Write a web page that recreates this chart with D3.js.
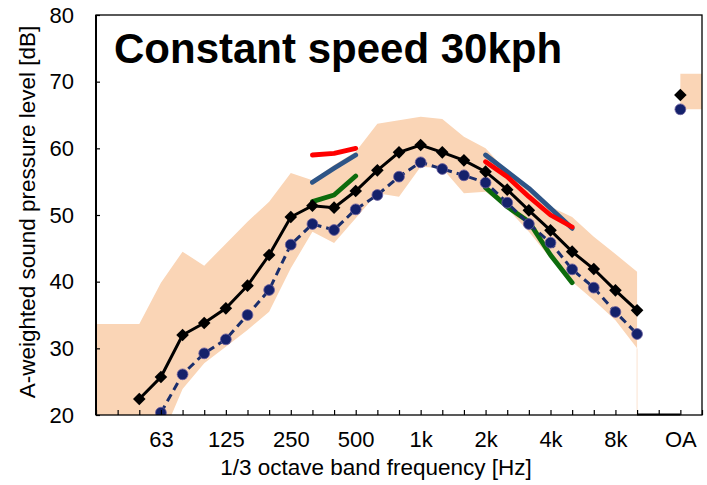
<!DOCTYPE html>
<html>
<head>
<meta charset="utf-8">
<script src="https://cdn.jsdelivr.net/npm/d3@7"></script>
<style>
  html, body { margin: 0; padding: 0; background: #fff; }
  svg { display: block; }
  text { font-family: "Liberation Sans", Arial, sans-serif; fill: #000; }
</style>
</head>
<body>
<svg id="chart" width="707" height="485"></svg>
<script>
// ---------- data ----------
const categories = ["31.5","40","50","63","80","100","125","160","200","250","315","400","500","630","800","1k","1.25k","1.6k","2k","2.5k","3.15k","4k","5k","6.3k","8k","10k","","OA",""];
const tickLabels = ["63","125","250","500","1k","2k","4k","8k","OA"];
const yTicks = [20,30,40,50,60,70,80];

// black solid line with diamonds (band spectrum)
const blackValues = [null,null,22.4,25.7,32.0,33.8,36.0,39.4,44.0,49.7,51.4,51.1,53.6,56.7,59.4,60.5,59.4,58.2,56.5,53.8,50.7,47.7,44.5,41.9,38.7,35.7,null,null,null];
const blackOA = 68.0;
// navy dashed line with circles
const navyValues = [null,null,null,20.35,26.1,29.25,31.35,35.0,38.75,45.55,48.65,47.75,50.85,53.0,55.75,57.9,56.9,55.95,54.85,51.85,48.65,45.85,41.85,39.1,35.45,32.15,null,null,null];
const navyOA = 65.85;
// peach range band
const bandUpper = [33.65,33.65,33.65,39.85,44.5,42.4,45.7,49.0,52.0,56.3,55.2,57.5,59.5,63.7,64.2,64.75,64.4,61.75,60.0,56.5,54.0,51.25,49.7,46.75,44.15,41.5,null,71.2,71.2];
const bandLower = [15.0,15.0,15.0,16.3,23.9,27.75,30.25,32.75,35.5,42.0,47.5,45.8,49.5,53.25,52.75,57.25,57.0,53.25,53.5,51.0,47.5,43.5,40.0,37.2,34.2,30.0,null,65.85,65.85];
// thick reference lines
const redValues   = [null,null,null,null,null,null,null,null,null,null,59.0,59.25,60.0,null,null,null,null,null,58.0,55.75,52.75,50.0,48.2,null,null,null,null,null,null];
const blueValues  = [null,null,null,null,null,null,null,null,null,null,54.9,57.0,59.0,null,null,null,null,null,59.0,56.5,54.0,51.0,48.0,null,null,null,null,null,null];
const greenValues = [null,null,null,null,null,null,null,null,null,null,52.0,53.0,55.85,null,null,null,null,null,54.1,51.25,49.0,44.0,39.85,null,null,null,null,null,null];

// ---------- layout ----------
const svg = d3.select("#chart");
const mLeft = 96, mRight = 702, mTop = 15, mBottom = 415;
const idx = d3.range(categories.length);
const x = d3.scalePoint().domain(idx).range([mLeft, mRight]).padding(0);
const y = d3.scaleLinear().domain([20, 80]).range([mBottom, mTop]);

svg.append("defs").append("clipPath").attr("id", "plotclip")
  .append("rect").attr("x", mLeft).attr("y", mTop).attr("width", mRight - mLeft).attr("height", mBottom - mTop);

const plot = svg.append("g").attr("clip-path", "url(#plotclip)");

// band
const area = d3.area()
  .defined(i => bandUpper[i] != null && bandLower[i] != null)
  .x(i => x(i)).y0(i => y(bandLower[i])).y1(i => y(bandUpper[i]));
plot.append("path").datum(idx).attr("d", area).attr("fill", "#FAD5B6");
// thin edge where the band ends at 10k
plot.append("line")
  .attr("x1", x(25)).attr("x2", x(25))
  .attr("y1", y(bandLower[25])).attr("y2", y(20))
  .attr("stroke", "#FBE3D2").attr("stroke-width", 1);

// reference lines
function refLine(vals, color) {
  const ln = d3.line().defined(i => vals[i] != null).x(i => x(i)).y(i => y(vals[i]));
  plot.append("path").datum(idx).attr("d", ln)
    .attr("fill", "none").attr("stroke", color).attr("stroke-width", 4.8)
    .attr("stroke-linecap", "round").attr("stroke-linejoin", "round");
}
refLine(blueValues, "#2E5587");
refLine(redValues, "#FF0000");
refLine(greenValues, "#0C6B0C");

// navy dashed line + circles
const navyLine = d3.line().defined(i => navyValues[i] != null).x(i => x(i)).y(i => y(navyValues[i]));
plot.append("path").datum(idx).attr("d", navyLine)
  .attr("fill", "none").attr("stroke", "#1A2E6C").attr("stroke-width", 3)
  .attr("stroke-dasharray", "8,5");
const navyPts = idx.filter(i => navyValues[i] != null).map(i => ({i, v: navyValues[i]}));
navyPts.push({i: 27, v: navyOA});
plot.selectAll("circle.navy").data(navyPts).join("circle")
  .attr("class", "navy")
  .attr("cx", d => x(d.i)).attr("cy", d => y(d.v)).attr("r", 5.4)
  .attr("fill", "#14216B").attr("stroke", "#6B5E9E").attr("stroke-width", 0.8);

// black line + diamonds
const blackLine = d3.line().defined(i => blackValues[i] != null).x(i => x(i)).y(i => y(blackValues[i]));
plot.append("path").datum(idx).attr("d", blackLine)
  .attr("fill", "none").attr("stroke", "#000").attr("stroke-width", 3);
const blackPts = idx.filter(i => blackValues[i] != null).map(i => ({i, v: blackValues[i]}));
blackPts.push({i: 27, v: blackOA});
const dia = "M0,-6.3L6.3,0L0,6.3L-6.3,0Z";
plot.selectAll("path.dia").data(blackPts).join("path")
  .attr("class", "dia")
  .attr("d", dia)
  .attr("transform", d => `translate(${x(d.i)},${y(d.v)})`)
  .attr("fill", "#000");

// ---------- axes ----------
svg.append("rect").attr("x", mLeft).attr("y", mTop).attr("width", mRight - mLeft).attr("height", mBottom - mTop)
  .attr("fill", "none").attr("stroke", "#000").attr("stroke-width", 1.3);
svg.append("line").attr("x1", mLeft).attr("x2", mLeft).attr("y1", mTop).attr("y2", mBottom)
  .attr("stroke", "#000").attr("stroke-width", 2);
svg.append("line").attr("x1", x(25)).attr("x2", x(27)).attr("y1", mBottom - 0.5).attr("y2", mBottom - 0.5)
  .attr("stroke", "#000").attr("stroke-width", 2);

// y axis
const yAxis = d3.axisLeft(y).tickValues(yTicks).tickSize(-4).tickPadding(22).tickFormat(d3.format("d"));
const gy = svg.append("g").attr("transform", `translate(${mLeft},0)`).call(yAxis);
gy.select(".domain").remove();
gy.selectAll(".tick line").attr("stroke", "#000").attr("stroke-width", 1.2);
gy.selectAll(".tick text").attr("font-size", 22).attr("fill", "#000")
  .style("font-family", "'Liberation Sans', Arial, sans-serif");

// x axis
const xAxis = d3.axisBottom(x).tickSize(-5).tickPadding(16)
  .tickFormat(i => tickLabels.includes(categories[i]) && categories[i] !== "" ? categories[i] : "");
const gx = svg.append("g").attr("transform", `translate(0,${mBottom})`).call(xAxis);
gx.select(".domain").remove();
gx.selectAll(".tick line").attr("stroke", "#000").attr("stroke-width", 1.2);
gx.selectAll(".tick text").attr("font-size", 22).attr("fill", "#000")
  .style("font-family", "'Liberation Sans', Arial, sans-serif");

// axis titles
svg.append("text").attr("x", 376).attr("y", 475).attr("text-anchor", "middle")
  .attr("font-size", 22.5).text("1/3 octave band frequency [Hz]");
svg.append("text").attr("transform", "translate(35,212) rotate(-90)").attr("text-anchor", "middle")
  .attr("font-size", 22.5).text("A-weighted sound pressure level [dB]");

// chart title
svg.append("text").attr("x", 114).attr("y", 63).attr("font-size", 42).attr("font-weight", "bold")
  .text("Constant speed 30kph");
</script>
</body>
</html>
